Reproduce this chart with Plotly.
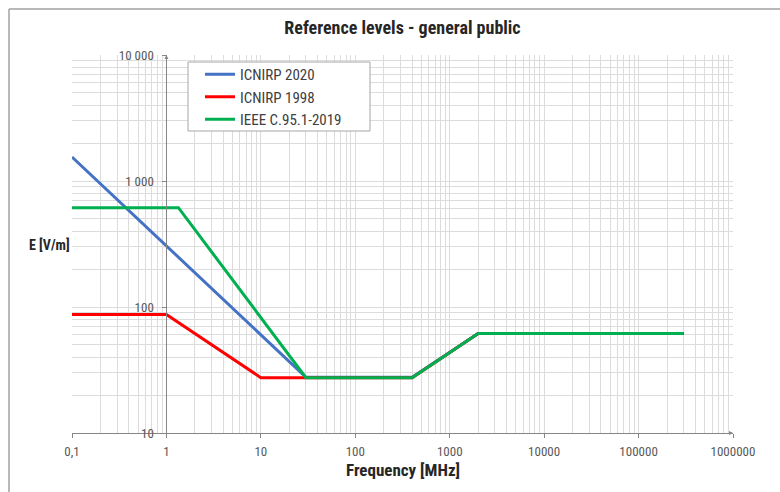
import plotly.graph_objects as go

# ---- data ----
icnirp2020_f = [0.1, 30, 400, 2000, 300000]
icnirp2020_e = [1550, 27.7, 27.7, 61.5, 61.5]

icnirp1998_f = [0.1, 1, 10, 400, 2000, 300000]
icnirp1998_e = [87, 87, 27.5, 27.5, 61.5, 61.5]

ieee2019_f = [0.1, 1.34, 30, 400, 2000, 300000]
ieee2019_e = [614, 614, 27.5, 27.5, 61.5, 61.5]

x_tickvals = [0.1, 1, 10, 100, 1000, 10000, 100000, 1000000]
x_ticktext = ["0,1", "1", "10", "100", "1000", "10000", "100000", "1000000"]
y_tickvals = [10, 100, 1000, 10000]
y_ticktext = ["10", "100", "1 000", "10 000"]

FONT = "Liberation Sans Narrow, Roboto Condensed, Liberation Sans, Arial, sans-serif"
GRID = "#dcdcdc"
AXIS = "#868686"
TICKFONT = dict(family=FONT, size=13, color="#595959")

x_minor = [m * 10 ** d for d in range(-1, 6) for m in range(2, 10)]
y_minor = [m * 10 ** d for d in range(1, 4) for m in range(2, 10)]

fig = go.Figure()
fig.add_trace(go.Scatter(x=icnirp2020_f, y=icnirp2020_e, mode="lines", name="ICNIRP 2020",
                         line=dict(color="#4472C4", width=3), legendgroup="a"))
fig.add_trace(go.Scatter(x=icnirp1998_f, y=icnirp1998_e, mode="lines", name="ICNIRP 1998",
                         line=dict(color="#FF0000", width=3), legendgroup="b"))
fig.add_trace(go.Scatter(x=ieee2019_f, y=ieee2019_e, mode="lines", name="IEEE C.95.1-2019",
                         line=dict(color="#00B050", width=3), legendgroup="c"))

L, R, T, B = 72, 47, 55, 59
W, H = 780, 492
pw, ph = W - L - R, H - T - B

def px(xp):
    return (xp - L) / pw

def py(yp):
    return (H - B - yp) / ph

fig.update_layout(
    width=W, height=H,
    margin=dict(l=L, r=R, t=T, b=B),
    paper_bgcolor="white", plot_bgcolor="white",
    font=dict(family=FONT, color="#404040"),
    title=dict(text="<b>Reference levels - general public</b>", x=0.5, xref="paper",
               xanchor="center", y=1 - 28 / H, yanchor="middle",
               font=dict(family=FONT, size=18, color="#262626")),
    xaxis=dict(type="log", range=[-1, 6], tickmode="array", tickvals=x_tickvals,
               ticktext=x_ticktext, tickfont=TICKFONT, showgrid=True, gridcolor=GRID,
               gridwidth=1, showline=True, linecolor=AXIS, linewidth=1, ticks="outside",
               ticklen=4, tickcolor=AXIS, zeroline=False, ticklabelstandoff=2,
               minor=dict(tickmode="array", tickvals=x_minor, showgrid=True,
                          gridcolor=GRID, gridwidth=1, ticks="")),
    yaxis=dict(type="log", range=[1, 4], tickmode="array", tickvals=y_tickvals,
               ticktext=y_ticktext, tickfont=TICKFONT, showgrid=True, gridcolor=GRID,
               gridwidth=1, showline=True, linecolor=AXIS, linewidth=1, ticks="outside",
               ticklen=4, tickcolor=AXIS, zeroline=False, anchor="free", position=1 / 7,
               ticklabelstandoff=6,
               minor=dict(tickmode="array", tickvals=y_minor, showgrid=True,
                          gridcolor=GRID, gridwidth=1, ticks="")),
    showlegend=True,
    legend=dict(x=px(200), y=py(58), xanchor="left", yanchor="top",
                bgcolor="rgba(0,0,0,0)", borderwidth=0, tracegroupgap=0,
                font=dict(family=FONT, size=15, color="#404040")),
    shapes=[
        dict(type="rect", xref="paper", yref="paper", x0=px(188), x1=px(370),
             y0=py(131), y1=py(62), line=dict(color="#a6a6a6", width=1),
             fillcolor="white", layer="above"),
        dict(type="line", xref="paper", yref="paper", x0=px(9), x1=px(780),
             y0=py(9), y1=py(9), line=dict(color="#a0a0a0", width=1.5)),
        dict(type="line", xref="paper", yref="paper", x0=px(9), x1=px(9),
             y0=py(9), y1=py(492), line=dict(color="#a0a0a0", width=1.5)),
    ],
    annotations=[
        dict(text="<b>E [V/m]</b>", xref="paper", yref="paper", x=px(49), y=py(245),
             xanchor="center", yanchor="middle", showarrow=False,
             font=dict(family=FONT, size=14, color="#262626")),
        dict(text="<b>Frequency [MHz]</b>", xref="paper", yref="paper", x=px(403),
             y=py(470), xanchor="center", yanchor="middle", showarrow=False,
             font=dict(family=FONT, size=17, color="#262626")),
        dict(text="", xref="paper", yref="paper", x=1, y=0, ax=-5, ay=0,
             showarrow=True, arrowhead=2, arrowsize=0.8, arrowwidth=1, arrowcolor=AXIS),
        dict(text="", xref="paper", yref="paper", x=1 / 7, y=1, ax=0, ay=5,
             showarrow=True, arrowhead=2, arrowsize=0.8, arrowwidth=1, arrowcolor=AXIS),
    ],
)

fig.write_html("out.html")
